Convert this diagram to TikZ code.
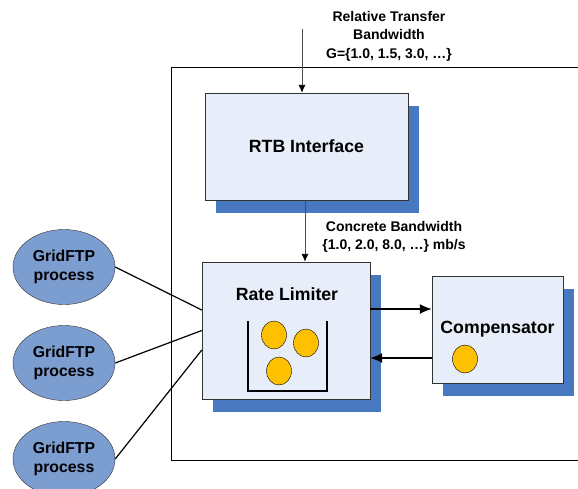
\documentclass[tikz,border=0pt]{standalone}
\usepackage{fontspec}
\setmainfont{Liberation Sans}
\usepackage{tikz}
\usetikzlibrary{shapes.geometric,shadows,arrows.meta}
\definecolor{boxfill}{RGB}{232,238,249}
\definecolor{shadowblue}{RGB}{72,120,192}
\definecolor{procfill}{RGB}{124,157,207}
\definecolor{ballfill}{RGB}{255,192,0}

\begin{document}
\begin{tikzpicture}[x=1pt, y=-1pt,
	block/.style={draw=black!80, fill=boxfill, rectangle, inner sep=0pt,
		drop shadow={shadow xshift=11pt, shadow yshift=-12.5pt, fill=shadowblue, opacity=1},
		font=\fontsize{17.7}{20}\selectfont\bfseries},
	proc/.style={draw=black!80, fill=procfill, ellipse, minimum width=102pt, minimum height=75pt,
		inner sep=0pt, align=center, font=\fontsize{15.8}{19.5}\selectfont\bfseries},
	ball/.style={draw=black, fill=ballfill, ellipse, minimum width=25pt, minimum height=28pt, inner sep=0pt},
	note/.style={align=center, font=\fontsize{14}{18.5}\selectfont\bfseries},
	arr/.style={-{Latex[length=8pt, width=7pt, black]}, line width=0.9pt, black!70},
	bigarr/.style={-{Latex[length=12pt, width=10pt]}, line width=1.4pt},
	link/.style={line width=1.2pt}]
	\clip (0,0) rectangle (578,488);
	\useasboundingbox (0,0) rectangle (578,488);

	% outer frame
	\draw (171,67) rectangle (600,460);

	% blocks
	\node[block, minimum width=203pt, minimum height=107pt] (rtb) at (306.5,146.5) {RTB Interface};
	\node[block, minimum width=168pt, minimum height=137pt] (rate) at (286,330.5) {};
	\node[block, minimum width=131pt, minimum height=107pt] (comp) at (497.5,329.5) {Compensator};
	\node[font=\fontsize{17.7}{20}\selectfont\bfseries] (ratetxt) at (287,294) {Rate Limiter};

	% bucket with balls
	\draw[line width=1.6pt] (248,321) -- (248,391) -- (327,391) -- (327,321);
	\node[ball] (b1) at (274,335) {};
	\node[ball] (b2) at (306,343) {};
	\node[ball] (b3) at (279,371) {};
	\node[ball] (b4) at (465,359) {};

	% processes
	\node[proc] (g1) at (64,267) {GridFTP\\process};
	\node[proc] (g2) at (64,363) {GridFTP\\process};
	\node[proc] (g3) at (64,459) {GridFTP\\process};

	% labels
	\node[note] (rel) at (389,36) {Relative Transfer\\Bandwidth\\G=\{1.0, 1.5, 3.0, …\}};
	\node[note] (conc) at (394,237) {Concrete Bandwidth\\\{1.0, 2.0, 8.0, …\} mb/s};

	% arrows
	\coordinate (in) at (302,29);
	\draw[arr] (in) -- (in |- rtb.north);
	\draw[arr] ([xshift=-1.5pt]rtb.south) -- ([xshift=19pt]rate.north);
	\path ([yshift=21.5pt]rate.east) coordinate (r1);
	\draw[bigarr] (r1) -- (r1 -| comp.west);
	\path ([yshift=-28.5pt]comp.west) coordinate (c1);
	\draw[bigarr] (c1) -- (c1 -| rate.east);

	% process links
	\draw[link] (g1.east) -- ([yshift=20.5pt]rate.west);
	\draw[link] (g2.east) -- (rate.west);
	\draw[link] (g3.east) -- ([yshift=-19.5pt]rate.west);
\end{tikzpicture}
\end{document}
